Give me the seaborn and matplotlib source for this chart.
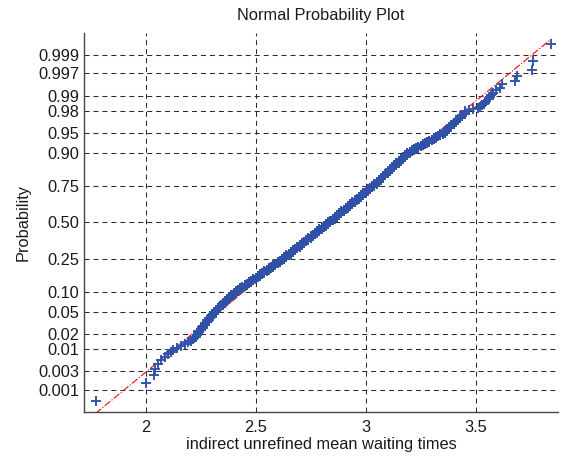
import matplotlib
matplotlib.use('Agg')
import matplotlib.pyplot as plt
import seaborn as sns
import numpy as np
import pandas as pd
from statistics import NormalDist

# ---------------------------------------------------------
# Data (n = 1000)
# ---------------------------------------------------------
# lowest 20 waiting times, read one by one
low_tail = [1.773, 2.003, 2.040, 2.045, 2.058, 2.072, 2.088, 2.100, 2.115, 2.125,
            2.145, 2.160, 2.180, 2.195, 2.205, 2.215, 2.220, 2.230, 2.235, 2.240]

# dense body of the sample, at 0.01 resolution, with how many samples share each value
body_values = [2.24, 2.25, 2.26, 2.27, 2.28, 2.29, 2.30, 2.31, 2.32, 2.33,
               2.34, 2.35, 2.36, 2.37, 2.38, 2.39, 2.40, 2.41, 2.42, 2.43,
               2.44, 2.45, 2.46, 2.47, 2.48, 2.49, 2.50, 2.51, 2.52, 2.53,
               2.54, 2.55, 2.56, 2.57, 2.58, 2.59, 2.60, 2.61, 2.62, 2.63,
               2.64, 2.65, 2.66, 2.67, 2.68, 2.69, 2.70, 2.71, 2.72, 2.73,
               2.74, 2.75, 2.76, 2.77, 2.78, 2.79, 2.80, 2.81, 2.82, 2.83,
               2.84, 2.85, 2.86, 2.87, 2.88, 2.89, 2.90, 2.91, 2.92, 2.93,
               2.94, 2.95, 2.96, 2.97, 2.98, 2.99, 3.00, 3.01, 3.02, 3.03,
               3.04, 3.05, 3.06, 3.07, 3.08, 3.09, 3.10, 3.11, 3.12, 3.13,
               3.14, 3.15, 3.16, 3.17, 3.18, 3.19, 3.20, 3.21, 3.22, 3.23,
               3.24, 3.25, 3.26, 3.27, 3.28, 3.29, 3.30, 3.31, 3.32, 3.33,
               3.34, 3.35, 3.36, 3.37, 3.38, 3.39, 3.40, 3.41, 3.42, 3.43,
               3.44, 3.45]
body_counts = [3, 2, 4, 3, 4, 4, 5, 5, 4, 4,
               5, 5, 5, 5, 6, 6, 7, 5, 5, 6,
               5, 6, 6, 6, 6, 7, 6, 7, 7, 8,
               7, 7, 8, 8, 8, 9, 8, 9, 9, 10,
               11, 11, 11, 11, 11, 11, 12, 12, 12, 12,
               12, 13, 12, 13, 12, 13, 13, 12, 13, 13,
               13, 14, 13, 14, 13, 13, 13, 13, 13, 13,
               12, 13, 12, 12, 12, 12, 12, 11, 11, 11,
               12, 11, 12, 11, 10, 10, 10, 10, 9, 9,
               9, 8, 8, 7, 7, 7, 4, 4, 3, 4,
               4, 3, 3, 3, 3, 3, 3, 3, 3, 2,
               3, 2, 4, 4, 3, 3, 3, 3, 2, 3,
               2, 3]

# highest 20 waiting times, read one by one
high_tail = [3.470, 3.490, 3.510, 3.520, 3.530, 3.540, 3.545, 3.550, 3.560, 3.565,
             3.570, 3.580, 3.595, 3.610, 3.620, 3.680, 3.690, 3.755, 3.760, 3.845]

prob_ticks = [0.001, 0.003, 0.01, 0.02, 0.05, 0.10, 0.25, 0.50,
              0.75, 0.90, 0.95, 0.98, 0.99, 0.997, 0.999]
prob_labels = ['0.001', '0.003', '0.01', '0.02', '0.05', '0.10', '0.25', '0.50',
               '0.75', '0.90', '0.95', '0.98', '0.99', '0.997', '0.999']
x_ticks = [2, 2.5, 3, 3.5]
x_labels = ['2', '2.5', '3', '3.5']

# ---------------------------------------------------------
# Normal probability transform (as in MATLAB normplot)
# ---------------------------------------------------------
nd = NormalDist()
waiting = np.sort(np.concatenate([low_tail, np.repeat(body_values, body_counts), high_tail]))
n = len(waiting)
z = np.array([nd.inv_cdf((i + 0.5) / n) for i in range(n)])
df = pd.DataFrame({'waiting_time': waiting, 'z': z})

# reference line through the 1st and 3rd quartiles, spanning the data range
q1, q3 = np.percentile(waiting, [25, 75])
slope = (q3 - q1) / (nd.inv_cdf(0.75) - nd.inv_cdf(0.25))
line_x = np.array([waiting.min(), waiting.max()])
line_df = pd.DataFrame({'x': line_x, 'z': nd.inv_cdf(0.25) + (line_x - q1) / slope})

# ---------------------------------------------------------
# Plot
# ---------------------------------------------------------
sns.set_style('white')
plt.rcParams['font.family'] = ['Liberation Sans', 'DejaVu Sans']
fs = 11.8
text_col = '#1a1a1a'

fig = plt.figure(figsize=(5.67, 4.59), dpi=100)
ax = fig.add_axes([0.1481, 0.1031, 0.8360, 0.8251])

sns.lineplot(data=line_df, x='x', y='z', color='red', linestyle='-.',
             linewidth=0.8, ax=ax, zorder=2, legend=False)
sns.scatterplot(data=df, x='waiting_time', y='z', marker='+', s=62,
                color='#2f52a8', linewidth=1.35, ax=ax, zorder=3, legend=False)

ax.set_xlim(1.72, 3.875)
ax.set_ylim(-3.49, 3.49)
ax.set_xticks(x_ticks)
ax.set_xticklabels(x_labels)
ax.set_yticks([nd.inv_cdf(p) for p in prob_ticks])
ax.set_yticklabels(prob_labels)

ax.set_axisbelow(True)
ax.grid(True, color='#2b2b2b', linestyle=(0, (4.8, 3.8)), linewidth=0.75)
for side in ['top', 'right']:
    ax.spines[side].set_visible(False)
for side in ['left', 'bottom']:
    ax.spines[side].set_color('#444444')
    ax.spines[side].set_linewidth(1.0)

ax.tick_params(axis='both', direction='in', length=4, width=0.8, color='#444444',
               labelsize=fs, labelcolor=text_col)
ax.tick_params(axis='x', pad=6)
ax.tick_params(axis='y', pad=3.5)

ax.set_title('Normal Probability Plot', fontsize=fs, color=text_col, pad=9)
ax.set_xlabel('indirect unrefined mean waiting times', fontsize=fs, color=text_col)
ax.set_ylabel('Probability', fontsize=fs, color=text_col)
ax.xaxis.set_label_coords(0.5, -0.067)
ax.yaxis.set_label_coords(-0.112, 0.5)

fig.savefig('out.png', dpi=100)
